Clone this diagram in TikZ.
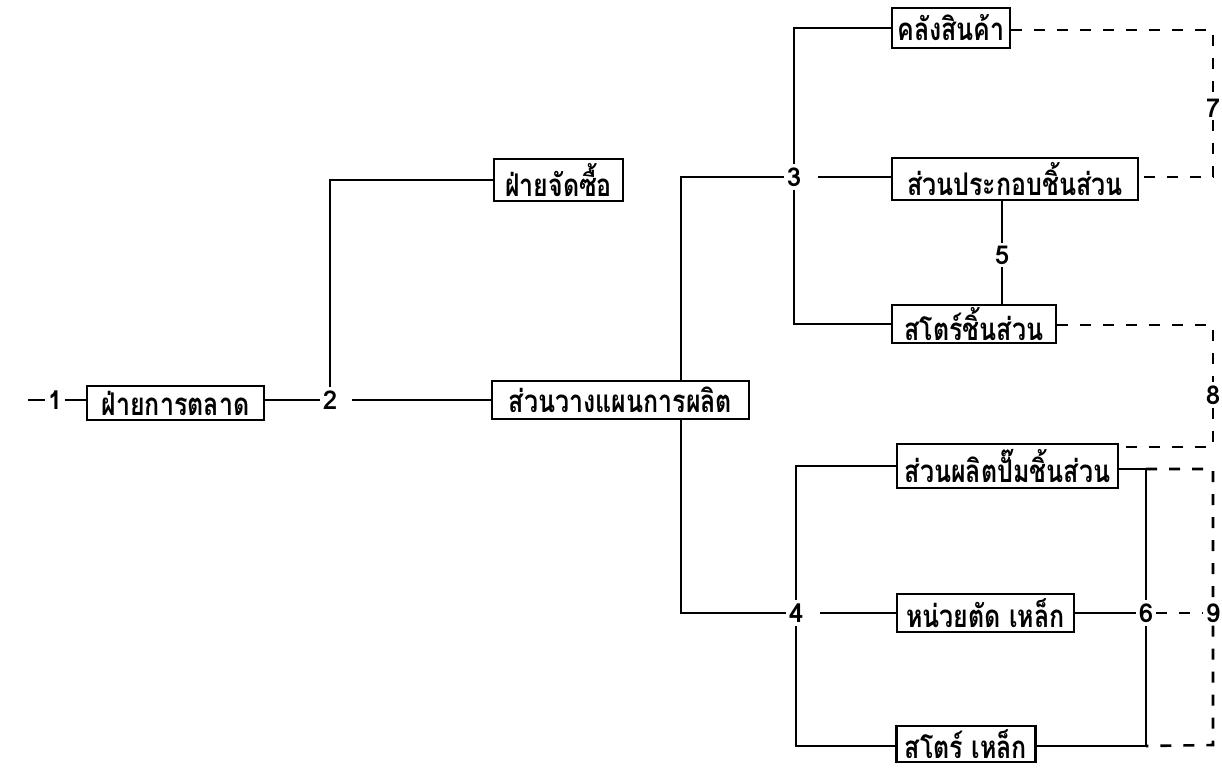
\documentclass[tikz,border=0pt]{standalone}
\usepackage{fontspec}
\newfontfamily\thaifont[Script=Thai]{Loma}
\newcommand{\tallt}[1]{\scalebox{1}[1.25]{#1}}
\begin{document}
\begin{tikzpicture}[x=1pt,y=-1pt,
  box/.style={draw,line width=2.6pt,inner sep=0pt,font=\thaifont\bfseries\fontsize{25}{25}\selectfont},
  num/.style={inner sep=3pt,font=\thaifont\bfseries\fontsize{26}{26}\selectfont},
  conn/.style={line width=2.6pt},
  dconn/.style={line width=2.6pt,dash pattern=on 11pt off 12pt}]
\useasboundingbox[fill=white] (0,0) rectangle (1222,771);
% boxes
\node[box,minimum width=177,minimum height=34] (mkt) at (175.5,403) {\tallt{ฝ่ายการตลาด}};
\node[box,minimum width=129,minimum height=42] (pur) at (558.5,180) {\tallt{ฝ่ายจัดซื้อ}};
\node[box,minimum width=257,minimum height=38] (plan) at (620.5,400) {\tallt{ส่วนวางแผนการผลิต}};
\node[box,minimum width=118,minimum height=40] (wh) at (951,28) {\tallt{คลังสินค้า}};
\node[box,minimum width=246,minimum height=42] (asm) at (1015,179) {\tallt{ส่วนประกอบชิ้นส่วน}};
\node[box,minimum width=164,minimum height=38] (pst) at (974,324) {\tallt{สโตร์ชิ้นส่วน}};
\node[box,minimum width=221,minimum height=44] (stamp) at (1007.5,466) {\tallt{ส่วนผลิตปั๊มชิ้นส่วน}};
\node[box,minimum width=177,minimum height=38] (cut) at (985.5,613) {\tallt{หน่วยตัด เหล็ก}};
\node[box,minimum width=139,minimum height=36] (sst) at (966,744) {\tallt{สโตร์ เหล็ก}};
% numbers
\node[num] (n1) at (55,400) {1};
\node[num] (n2) at (330,400) {2};
\node[num] (n3) at (794,177) {3};
\node[num] (n4) at (796,613) {4};
\node[num] (n5) at (1002,255) {5};
\node[num] (n6) at (1146,613) {6};
\node[num] (n7) at (1213,108) {7};
\node[num] (n8) at (1213,395) {8};
\node[num] (n9) at (1213,613) {9};
% helper coordinates
\coordinate (s0) at (28,400);
\coordinate (cA) at (681,0);
\coordinate (c6t) at (1146,469);
\coordinate (c6b) at (1146,746);
\coordinate (c7t) at (1213,30);
\coordinate (c7b) at (1213,177);
\coordinate (c8t) at (1213,325);
\coordinate (c8b) at (1213,447);
\coordinate (c9t) at (1213,469);
\coordinate (c9b) at (1213,745);
% solid connectors
\draw[conn] (s0) -- (n1) -- (n1 -| mkt.west);
\draw[conn] (mkt.east |- n2) -- (n2.west);
\draw[conn] ([xshift=12pt]n2.east) -- (plan.west |- n2);
\draw[conn] (n2) |- (pur);
\draw[conn] (plan.north -| cA) |- (n3);
\draw[conn] (plan.south -| cA) |- (n4);
\draw[conn] ([xshift=14pt]n3.east) -- (asm.west |- n3);
\draw[conn] (n3) |- (wh);
\draw[conn] (n3) |- (pst);
\draw[conn] (asm.south -| n5) -- (n5) -- (pst.north -| n5);
\draw[conn] ([xshift=14pt]n4.east) -- (cut.west |- n4);
\draw[conn] (n4) |- (stamp);
\draw[conn] (n4) |- (sst.west |- c6b);
\draw[conn] (cut.east |- n6) -- (n6);
\draw[conn] (stamp.east |- c6t) -- (c6t) -- (n6);
\draw[conn] (n6) -- (c6b) -- (sst.east |- c6b);
% dashed connectors
\draw[dconn] (wh.east |- c7t) -- (c7t) -- (n7) -- (c7b) -- (asm.east |- c7b);
\draw[dconn] (pst.east |- c8t) -- (c8t) -- (n8) -- (c8b) -- (stamp.east |- c8b);
\draw[dconn] (c6t) -- (c9t) -- (n9) -- (c9b) -- (c6b);
\draw[dconn] (n6) -- (n9);
\end{tikzpicture}
\end{document}
